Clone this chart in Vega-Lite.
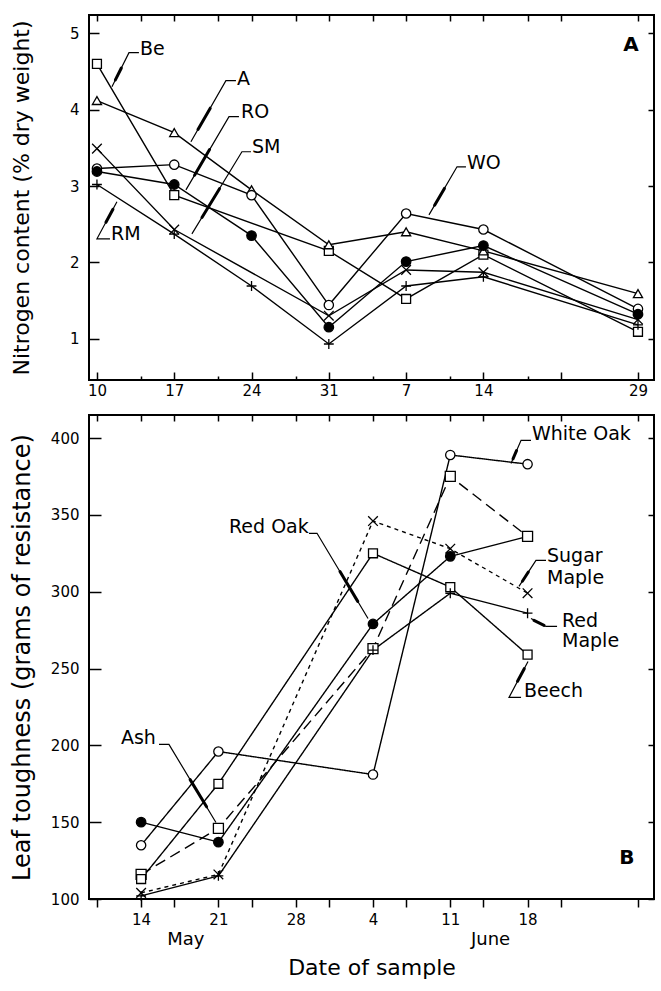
{
  "$schema": "https://vega.github.io/schema/vega-lite/v6.json",
  "background": "white",
  "padding": {"left": 9, "top": 13, "right": 4, "bottom": 0},
  "spacing": 10,
  "config": {
    "view": {"stroke": "black", "strokeWidth": 2},
    "axis": {
      "domain": false, "grid": false,
      "tickColor": "black", "tickWidth": 1.5,
      "labelColor": "black", "labelFont": "DejaVu Sans", "labelFontSize": 15,
      "titleColor": "black", "titleFont": "DejaVu Sans", "titleFontWeight": "normal"
    },
    "text": {"font": "DejaVu Sans"}
  },
  "datasets": {
    "nitrogen": [
      {"sp": "Be", "day": 0, "n": 4.60}, {"sp": "Be", "day": 7, "n": 2.88}, {"sp": "Be", "day": 21, "n": 2.15},
      {"sp": "Be", "day": 28, "n": 1.52}, {"sp": "Be", "day": 35, "n": 2.10}, {"sp": "Be", "day": 49, "n": 1.09},
      {"sp": "A", "day": 0, "n": 4.12}, {"sp": "A", "day": 7, "n": 3.70}, {"sp": "A", "day": 14, "n": 2.95},
      {"sp": "A", "day": 21, "n": 2.23}, {"sp": "A", "day": 28, "n": 2.40}, {"sp": "A", "day": 35, "n": 2.15},
      {"sp": "A", "day": 49, "n": 1.59},
      {"sp": "WO", "day": 0, "n": 3.23}, {"sp": "WO", "day": 7, "n": 3.28}, {"sp": "WO", "day": 14, "n": 2.88},
      {"sp": "WO", "day": 21, "n": 1.44}, {"sp": "WO", "day": 28, "n": 2.64}, {"sp": "WO", "day": 35, "n": 2.43},
      {"sp": "WO", "day": 49, "n": 1.39},
      {"sp": "RO", "day": 0, "n": 3.19}, {"sp": "RO", "day": 7, "n": 3.02}, {"sp": "RO", "day": 14, "n": 2.35},
      {"sp": "RO", "day": 21, "n": 1.15}, {"sp": "RO", "day": 28, "n": 2.01}, {"sp": "RO", "day": 35, "n": 2.22},
      {"sp": "RO", "day": 49, "n": 1.32},
      {"sp": "SM", "day": 0, "n": 3.49}, {"sp": "SM", "day": 7, "n": 2.43}, {"sp": "SM", "day": 21, "n": 1.30},
      {"sp": "SM", "day": 28, "n": 1.90}, {"sp": "SM", "day": 35, "n": 1.87}, {"sp": "SM", "day": 49, "n": 1.25},
      {"sp": "RM", "day": 0, "n": 3.02}, {"sp": "RM", "day": 7, "n": 2.37}, {"sp": "RM", "day": 14, "n": 1.69},
      {"sp": "RM", "day": 21, "n": 0.93}, {"sp": "RM", "day": 28, "n": 1.69}, {"sp": "RM", "day": 35, "n": 1.81},
      {"sp": "RM", "day": 49, "n": 1.18}
    ],
    "nLead": [
      {"id": "Be", "k": 0, "day": 3.80, "n": 4.747}, {"id": "Be", "k": 1, "day": 2.90, "n": 4.747}, {"id": "Be", "k": 2, "day": 1.36, "n": 4.301},
      {"id": "A", "k": 0, "day": 12.59, "n": 4.380}, {"id": "A", "k": 1, "day": 11.68, "n": 4.380}, {"id": "A", "k": 2, "day": 8.51, "n": 3.580},
      {"id": "RO", "k": 0, "day": 12.86, "n": 3.908}, {"id": "RO", "k": 1, "day": 11.96, "n": 3.908}, {"id": "RO", "k": 2, "day": 8.06, "n": 2.950},
      {"id": "SM", "k": 0, "day": 13.95, "n": 3.449}, {"id": "SM", "k": 1, "day": 13.13, "n": 3.449}, {"id": "SM", "k": 2, "day": 8.60, "n": 2.373},
      {"id": "RM", "k": 0, "day": 1.18, "n": 2.308}, {"id": "RM", "k": 1, "day": 0, "n": 2.308}, {"id": "RM", "k": 2, "day": 1.81, "n": 2.793},
      {"id": "WO", "k": 0, "day": 33.42, "n": 3.252}, {"id": "WO", "k": 1, "day": 32.61, "n": 3.252}, {"id": "WO", "k": 2, "day": 30.07, "n": 2.622}
    ],
    "nArrow": [
      {"id": "Be", "day": 2.21, "n": 4.546}, {"id": "Be", "day": 1.67, "n": 4.390},
      {"id": "A", "day": 10.26, "n": 4.020}, {"id": "A", "day": 9.15, "n": 3.740},
      {"id": "RO", "day": 10.20, "n": 3.477}, {"id": "RO", "day": 8.84, "n": 3.142},
      {"id": "SM", "day": 11.10, "n": 2.965}, {"id": "SM", "day": 9.51, "n": 2.588},
      {"id": "RM", "day": 0.815, "n": 2.525}, {"id": "RM", "day": 1.45, "n": 2.696},
      {"id": "WO", "day": 31.47, "n": 2.969}, {"id": "WO", "day": 30.58, "n": 2.748}
    ],
    "nText": [
      {"label": "Be", "day": 3.89, "n": 4.80},
      {"label": "A", "day": 12.68, "n": 4.406},
      {"label": "RO", "day": 13.04, "n": 3.973},
      {"label": "SM", "day": 14.04, "n": 3.514},
      {"label": "RM", "day": 1.27, "n": 2.373},
      {"label": "WO", "day": 33.51, "n": 3.304}
    ],
    "tough": [
      {"sp": "WO", "day": 4, "g": 135}, {"sp": "WO", "day": 11, "g": 196}, {"sp": "WO", "day": 25, "g": 181},
      {"sp": "WO", "day": 32, "g": 389}, {"sp": "WO", "day": 39, "g": 383},
      {"sp": "RO", "day": 4, "g": 150}, {"sp": "RO", "day": 11, "g": 137}, {"sp": "RO", "day": 25, "g": 279},
      {"sp": "RO", "day": 32, "g": 323}, {"sp": "RO", "day": 39, "g": 336},
      {"sp": "Ash", "day": 4, "g": 116}, {"sp": "Ash", "day": 11, "g": 146}, {"sp": "Ash", "day": 25, "g": 263},
      {"sp": "Ash", "day": 32, "g": 375}, {"sp": "Ash", "day": 39, "g": 336},
      {"sp": "Be", "day": 4, "g": 113}, {"sp": "Be", "day": 11, "g": 175}, {"sp": "Be", "day": 25, "g": 325},
      {"sp": "Be", "day": 32, "g": 303}, {"sp": "Be", "day": 39, "g": 259},
      {"sp": "SM", "day": 4, "g": 104}, {"sp": "SM", "day": 11, "g": 116}, {"sp": "SM", "day": 25, "g": 346},
      {"sp": "SM", "day": 32, "g": 328}, {"sp": "SM", "day": 39, "g": 299},
      {"sp": "RM", "day": 4, "g": 102}, {"sp": "RM", "day": 11, "g": 115}, {"sp": "RM", "day": 25, "g": 262},
      {"sp": "RM", "day": 32, "g": 299}, {"sp": "RM", "day": 39, "g": 286}
    ],
    "gLead": [
      {"id": "WO", "k": 0, "day": 39.31, "g": 398.5}, {"id": "WO", "k": 1, "day": 38.41, "g": 398.5}, {"id": "WO", "k": 2, "day": 37.50, "g": 383.5},
      {"id": "RO", "k": 0, "day": 19.20, "g": 338.0}, {"id": "RO", "k": 1, "day": 19.93, "g": 338.0}, {"id": "RO", "k": 2, "day": 24.55, "g": 282.6},
      {"id": "SM", "k": 0, "day": 40.67, "g": 320.4}, {"id": "SM", "k": 1, "day": 39.76, "g": 320.4}, {"id": "SM", "k": 2, "day": 38.22, "g": 303.5},
      {"id": "RM", "k": 0, "day": 39.31, "g": 282.6}, {"id": "RM", "k": 1, "day": 40.67, "g": 277.4}, {"id": "RM", "k": 2, "day": 41.67, "g": 277.4},
      {"id": "Be", "k": 0, "day": 38.41, "g": 231.2}, {"id": "Be", "k": 1, "day": 37.32, "g": 231.2}, {"id": "Be", "k": 2, "day": 39.04, "g": 254.6},
      {"id": "Ash", "k": 0, "day": 5.62, "g": 200.6}, {"id": "Ash", "k": 1, "day": 6.52, "g": 200.6}, {"id": "Ash", "k": 2, "day": 10.78, "g": 149.8}
    ],
    "gArrow": [
      {"id": "WO", "day": 38.0, "g": 391.8}, {"id": "WO", "day": 37.68, "g": 386.5},
      {"id": "RO", "day": 22.01, "g": 313.1}, {"id": "RO", "day": 23.62, "g": 293.7},
      {"id": "SM", "day": 39.07, "g": 312.8}, {"id": "SM", "day": 38.53, "g": 306.8},
      {"id": "RM", "day": 39.58, "g": 281.3}, {"id": "RM", "day": 40.49, "g": 278.1},
      {"id": "Be", "day": 38.09, "g": 241.7}, {"id": "Be", "day": 38.70, "g": 249.9},
      {"id": "Ash", "day": 8.44, "g": 177.7}, {"id": "Ash", "day": 9.93, "g": 160.0}
    ],
    "gText": [
      {"label": "White Oak", "day": 39.40, "g": 402.4},
      {"label": "Red Oak", "day": 11.96, "g": 341.9},
      {"label": "Sugar", "day": 40.76, "g": 323.0},
      {"label": "Maple", "day": 40.76, "g": 308.7},
      {"label": "Red", "day": 42.12, "g": 280.7},
      {"label": "Maple", "day": 42.12, "g": 267.6},
      {"label": "Beech", "day": 38.68, "g": 235.1},
      {"label": "Ash", "day": 2.17, "g": 205.1}
    ]
  },
  "vconcat": [
    {
      "width": 565,
      "height": 365,
      "layer": [
        {
          "data": {"name": "nitrogen"},
          "mark": {"type": "line", "color": "black", "strokeWidth": 1.4},
          "encoding": {
            "x": {
              "field": "day", "type": "quantitative",
              "scale": {"domain": [-0.72, 50.45], "nice": false, "zero": false},
              "axis": {
                "orient": "bottom", "title": null,
                "values": [0, 4, 7, 11, 14, 18, 21, 25, 28, 32, 35, 39, 42, 49],
                "labelExpr": "datum.value==0?'10':datum.value==7?'17':datum.value==14?'24':datum.value==21?'31':datum.value==28?'7':datum.value==35?'14':datum.value==49?'29':''",
                "tickSize": {"condition": {"test": "datum.value==4 || datum.value==11 || datum.value==18 || datum.value==25 || datum.value==32 || datum.value==39", "value": -4}, "value": -8},
                "labelPadding": 11,
                "labelFlush": false, "labelOverlap": false, "labelBound": false
              }
            },
            "y": {
              "field": "n", "type": "quantitative",
              "scale": {"domain": [0.458, 5.241], "nice": false, "zero": false},
              "axis": {
                "orient": "left", "values": [1, 2, 3, 4, 5],
                "tickSize": -10, "labelPadding": 20, "labelFlush": false,
                "title": "Nitrogen content (% dry weight)", "titleFontSize": 22, "titlePadding": 16,
                "minExtent": 40, "maxExtent": 40
              }
            },
            "detail": {"field": "sp"},
            "order": {"field": "day"}
          }
        },
        {
          "data": {"name": "nitrogen"},
          "mark": {"type": "point", "filled": true, "stroke": "black", "strokeWidth": 1.3, "opacity": 1},
          "encoding": {
            "x": {
              "field": "day", "type": "quantitative",
              "axis": {
                "orient": "top", "title": null, "labels": false,
                "values": [0, 4, 7, 11, 14, 18, 21, 25, 28, 32, 35, 39, 42, 49],
                "tickSize": -6
              }
            },
            "y": {
              "field": "n", "type": "quantitative",
              "axis": {"orient": "right", "title": null, "labels": false, "values": [1, 2, 3, 4, 5], "tickSize": -6}
            },
            "shape": {
              "field": "sp", "type": "nominal", "legend": null,
              "scale": {
                "domain": ["Be", "A", "WO", "RO", "SM", "RM"],
                "range": ["square", "triangle-up", "circle", "circle", "M-1,-1L1,1M-1,1L1,-1", "M-1,0L1,0M0,-1L0,1"]
              }
            },
            "fill": {
              "field": "sp", "type": "nominal", "legend": null,
              "scale": {"domain": ["Be", "A", "WO", "RO", "SM", "RM"], "range": ["white", "white", "white", "black", "white", "white"]}
            },
            "size": {
              "field": "sp", "type": "ordinal", "legend": null,
              "scale": {"domain": ["Be", "A", "WO", "RO", "SM", "RM"], "range": [80, 100, 90, 35, 60, 90]}
            }
          }
        },
        {
          "data": {"name": "nLead"},
          "mark": {"type": "line", "color": "black", "strokeWidth": 1.2},
          "encoding": {
            "x": {"field": "day", "type": "quantitative", "axis": null},
            "y": {"field": "n", "type": "quantitative", "axis": null},
            "detail": {"field": "id"},
            "order": {"field": "k"}
          }
        },
        {
          "data": {"name": "nArrow"},
          "mark": {"type": "line", "color": "black", "strokeWidth": 3, "strokeCap": "round"},
          "encoding": {
            "x": {"field": "day", "type": "quantitative", "axis": null},
            "y": {"field": "n", "type": "quantitative", "axis": null},
            "detail": {"field": "id"}
          }
        },
        {
          "data": {"name": "nText"},
          "mark": {"type": "text", "align": "left", "baseline": "middle", "fontSize": 19, "color": "black"},
          "encoding": {
            "x": {"field": "day", "type": "quantitative", "axis": null},
            "y": {"field": "n", "type": "quantitative", "axis": null},
            "text": {"field": "label"}
          }
        },
        {
          "data": {"values": [{"label": "A", "day": 48.37, "n": 4.852}]},
          "mark": {"type": "text", "align": "center", "baseline": "middle", "fontSize": 20, "fontWeight": "bold", "color": "black"},
          "encoding": {
            "x": {"field": "day", "type": "quantitative", "axis": null},
            "y": {"field": "n", "type": "quantitative", "axis": null},
            "text": {"field": "label"}
          }
        }
      ],
      "resolve": {"axis": {"x": "independent", "y": "independent"}}
    },
    {
      "width": 565,
      "height": 484,
      "layer": [
        {
          "data": {"name": "tough"},
          "mark": {"type": "line", "color": "black", "strokeWidth": 1.4},
          "encoding": {
            "x": {
              "field": "day", "type": "quantitative",
              "scale": {"domain": [-0.72, 50.45], "nice": false, "zero": false},
              "axis": {
                "orient": "bottom",
                "values": [0, 4, 7, 8, 11, 14, 18, 21, 25, 28, 32, 35, 35.6, 39, 42, 49],
                "labelExpr": "datum.value==4?'14':datum.value==11?'21':datum.value==18?'28':datum.value==25?'4':datum.value==32?'11':datum.value==39?'18':datum.value==8?['','May']:datum.value==35.6?['','June']:''",
                "tickSize": 8,
                "tickOpacity": {"condition": {"test": "datum.value==8 || datum.value==35.6", "value": 0}, "value": 1},
                "labelFontSize": {"condition": {"test": "datum.value==8 || datum.value==35.6", "value": 18}, "value": 15},
                "labelPadding": 5, "labelLineHeight": 18,
                "labelFlush": false, "labelOverlap": false, "labelBound": false,
                "title": "Date of sample", "titleFontSize": 22, "titlePadding": 8,
                "minExtent": 50, "maxExtent": 50
              }
            },
            "y": {
              "field": "g", "type": "quantitative",
              "scale": {"domain": [100, 415], "nice": false, "zero": false},
              "axis": {
                "orient": "left", "values": [100, 150, 200, 250, 300, 350, 400],
                "tickSize": -12, "labelPadding": 22, "labelFlush": false,
                "title": "Leaf toughness (grams of resistance)", "titleFontSize": 24, "titlePadding": 15,
                "minExtent": 40, "maxExtent": 40
              }
            },
            "detail": {"field": "sp"},
            "order": {"field": "day"},
            "strokeDash": {
              "field": "sp", "type": "nominal", "legend": null,
              "scale": {
                "domain": ["WO", "RO", "Ash", "Be", "SM", "RM"],
                "range": [[1, 0], [1, 0], [11, 6], [1, 0], [4, 4], [1, 0]]
              }
            }
          }
        },
        {
          "data": {"name": "tough"},
          "mark": {"type": "point", "filled": true, "stroke": "black", "strokeWidth": 1.3, "opacity": 1},
          "encoding": {
            "x": {
              "field": "day", "type": "quantitative",
              "axis": {
                "orient": "top", "title": null, "labels": false,
                "values": [0, 4, 7, 11, 14, 18, 21, 25, 28, 32, 35, 39, 42, 49],
                "tickSize": -6
              }
            },
            "y": {
              "field": "g", "type": "quantitative",
              "axis": {"orient": "right", "title": null, "labels": false, "values": [100, 150, 200, 250, 300, 350, 400], "tickSize": -6}
            },
            "shape": {
              "field": "sp", "type": "nominal", "legend": null,
              "scale": {
                "domain": ["WO", "RO", "Ash", "Be", "SM", "RM"],
                "range": ["circle", "circle", "triangle-up", "square", "M-1,-1L1,1M-1,1L1,-1", "M-1,0L1,0M0,-1L0,1"]
              }
            },
            "fill": {
              "field": "sp", "type": "nominal", "legend": null,
              "scale": {"domain": ["WO", "RO", "Ash", "Be", "SM", "RM"], "range": ["white", "black", "white", "white", "white", "white"]}
            },
            "size": {
              "field": "sp", "type": "ordinal", "legend": null,
              "scale": {"domain": ["WO", "RO", "Ash", "Be", "SM", "RM"], "range": [75, 30, 90, 60, 55, 80]}
            }
          }
        },
        {
          "data": {"name": "gLead"},
          "mark": {"type": "line", "color": "black", "strokeWidth": 1.2},
          "encoding": {
            "x": {"field": "day", "type": "quantitative", "axis": null},
            "y": {"field": "g", "type": "quantitative", "axis": null},
            "detail": {"field": "id"},
            "order": {"field": "k"}
          }
        },
        {
          "data": {"name": "gArrow"},
          "mark": {"type": "line", "color": "black", "strokeWidth": 3, "strokeCap": "round"},
          "encoding": {
            "x": {"field": "day", "type": "quantitative", "axis": null},
            "y": {"field": "g", "type": "quantitative", "axis": null},
            "detail": {"field": "id"}
          }
        },
        {
          "data": {"name": "gText"},
          "mark": {"type": "text", "align": "left", "baseline": "middle", "fontSize": 19, "color": "black"},
          "encoding": {
            "x": {"field": "day", "type": "quantitative", "axis": null},
            "y": {"field": "g", "type": "quantitative", "axis": null},
            "text": {"field": "label"}
          }
        },
        {
          "data": {"values": [{"label": "B", "day": 48.0, "g": 127.0}]},
          "mark": {"type": "text", "align": "center", "baseline": "middle", "fontSize": 20, "fontWeight": "bold", "color": "black"},
          "encoding": {
            "x": {"field": "day", "type": "quantitative", "axis": null},
            "y": {"field": "g", "type": "quantitative", "axis": null},
            "text": {"field": "label"}
          }
        }
      ],
      "resolve": {"axis": {"x": "independent", "y": "independent"}}
    }
  ]
}
